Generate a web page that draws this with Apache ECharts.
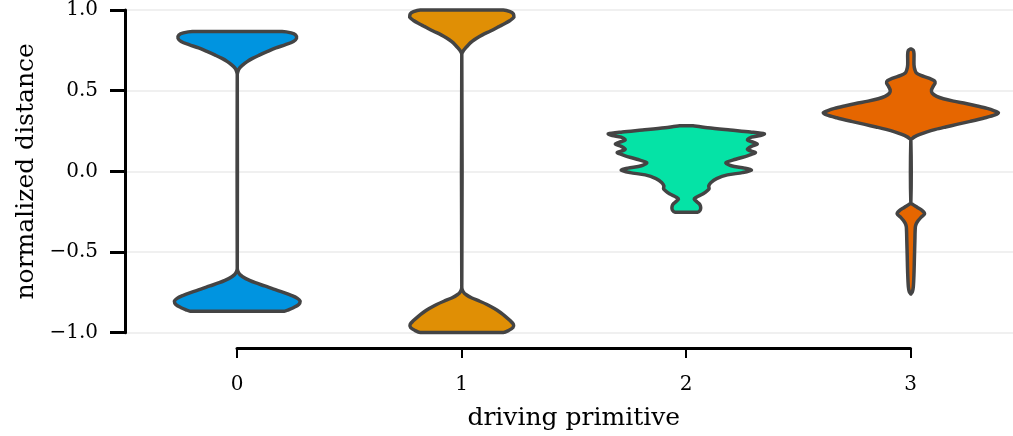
<!DOCTYPE html>
<html>
<head>
<meta charset="utf-8">
<script src="https://cdn.jsdelivr.net/npm/echarts@6/dist/echarts.min.js"></script>
<style>
  html, body { margin: 0; padding: 0; background: #ffffff; }
  #chart { width: 1013px; height: 436px; }
</style>
</head>
<body>
<div id="chart"></div>
<script>
// Categories on the x axis
const categories = ['0', '1', '2', '3'];
const yTicks = [-1.0, -0.5, 0.0, 0.5, 1.0];

// Violin outlines: [normalized distance, half width in category units], top to bottom
const violin0 = [
  [0.867, 0.200], [0.858, 0.240], [0.845, 0.260], [0.825, 0.264], [0.805, 0.250],
  [0.785, 0.215], [0.765, 0.172], [0.743, 0.135], [0.720, 0.098], [0.700, 0.068],
  [0.680, 0.044], [0.660, 0.025], [0.640, 0.010], [0.620, 0.003], [0.600, 0.000],
  [-0.600, 0.000], [-0.620, 0.003], [-0.640, 0.012], [-0.665, 0.038], [-0.690, 0.080],
  [-0.710, 0.122], [-0.730, 0.162], [-0.750, 0.205], [-0.770, 0.243], [-0.787, 0.268],
  [-0.805, 0.280], [-0.825, 0.274], [-0.845, 0.250], [-0.858, 0.228], [-0.867, 0.210]
];
const violin1 = [
  [1.000, 0.185], [0.990, 0.215], [0.975, 0.230], [0.955, 0.232], [0.935, 0.215],
  [0.915, 0.190], [0.897, 0.165], [0.870, 0.128], [0.846, 0.092], [0.825, 0.066],
  [0.805, 0.046], [0.785, 0.030], [0.763, 0.016], [0.745, 0.006], [0.725, 0.000],
  [-0.720, 0.000], [-0.745, 0.006], [-0.765, 0.020], [-0.785, 0.045], [-0.805, 0.080],
  [-0.825, 0.112], [-0.850, 0.145], [-0.875, 0.172], [-0.900, 0.195], [-0.925, 0.215],
  [-0.948, 0.230], [-0.968, 0.228], [-0.985, 0.210], [-0.998, 0.185]
];
const violin2 = [
  [0.282, 0.030], [0.270, 0.095], [0.256, 0.195], [0.244, 0.285], [0.232, 0.348],
  [0.222, 0.330], [0.212, 0.290], [0.194, 0.272], [0.180, 0.300], [0.168, 0.316],
  [0.155, 0.290], [0.137, 0.272], [0.125, 0.290], [0.116, 0.308], [0.105, 0.290],
  [0.096, 0.272], [0.075, 0.220], [0.054, 0.176], [0.035, 0.200], [0.020, 0.260],
  [0.007, 0.290], [-0.008, 0.250], [-0.022, 0.183], [-0.045, 0.135], [-0.069, 0.110],
  [-0.090, 0.100], [-0.110, 0.101], [-0.139, 0.075], [-0.160, 0.045], [-0.171, 0.035],
  [-0.190, 0.048], [-0.205, 0.060], [-0.223, 0.064], [-0.240, 0.062], [-0.254, 0.050]
];
const violin3 = [
  [0.758, 0.003], [0.750, 0.011], [0.730, 0.014], [0.660, 0.014], [0.630, 0.018],
  [0.610, 0.025], [0.595, 0.045], [0.578, 0.080], [0.562, 0.104], [0.547, 0.108],
  [0.528, 0.100], [0.505, 0.092], [0.485, 0.095], [0.465, 0.115], [0.450, 0.145],
  [0.435, 0.190], [0.420, 0.245], [0.405, 0.295], [0.390, 0.340], [0.375, 0.372],
  [0.363, 0.390], [0.350, 0.375], [0.332, 0.330], [0.310, 0.265], [0.291, 0.205],
  [0.275, 0.155], [0.260, 0.110], [0.245, 0.072], [0.229, 0.040], [0.215, 0.018],
  [0.205, 0.007], [0.195, 0.000],
  [-0.195, 0.000], [-0.205, 0.008], [-0.223, 0.028], [-0.245, 0.052], [-0.264, 0.061],
  [-0.285, 0.045], [-0.305, 0.033], [-0.325, 0.024], [-0.346, 0.020], [-0.428, 0.018],
  [-0.531, 0.016], [-0.634, 0.014], [-0.716, 0.011], [-0.745, 0.007], [-0.760, 0.000]
];
const violins = [violin0, violin1, violin2, violin3];

const fills = ['#0094E0', '#E08F05', '#05E3A6', '#E66600'];
const edge = '#444444';
const serif = "'DejaVu Serif', 'Liberation Serif', serif";

function renderViolin(params, api) {
  const idx = api.value(0);
  const prof = violins[idx];
  const right = prof.map(p => api.coord([idx + p[1], p[0]]));
  const left = prof.slice().reverse().map(p => api.coord([idx - p[1], p[0]]));
  const pts = right.concat(left);
  // keep the smoothed outline inside the outline's own bounding box
  const lo = [Infinity, Infinity], hi = [-Infinity, -Infinity];
  pts.forEach(q => {
    lo[0] = Math.min(lo[0], q[0]); lo[1] = Math.min(lo[1], q[1]);
    hi[0] = Math.max(hi[0], q[0]); hi[1] = Math.max(hi[1], q[1]);
  });
  return {
    type: 'polygon',
    shape: { points: pts, smooth: 0.3, smoothConstraint: [lo, hi] },
    style: { fill: fills[idx], stroke: edge, lineWidth: 3.5, lineJoin: 'round' }
  };
}

function fmtY(v) {
  return (v < 0 ? '\u2212' : '') + Math.abs(v).toFixed(1);
}

const chart = echarts.init(document.getElementById('chart'), null, { renderer: 'canvas' });
chart.setOption({
  animation: false,
  backgroundColor: '#ffffff',
  grid: [
    { left: 125, right: 0, top: 8.5, bottom: 103.3 },
    { left: 237, right: 102.5, top: 8.5, bottom: 103.3 }
  ],
  xAxis: [
    { gridIndex: 0, type: 'value', min: -0.5, max: 3.455, show: false },
    {
      gridIndex: 1, type: 'value', min: 0, max: categories.length - 1, interval: 1,
      position: 'bottom', offset: 15.5,
      axisLine: { show: true, onZero: false, lineStyle: { color: '#000', width: 3 } },
      axisTick: { show: true, length: 10, lineStyle: { color: '#000', width: 2 } },
      axisLabel: { margin: 27, color: '#000', fontFamily: serif, fontSize: 20,
        formatter: v => categories[v] },
      splitLine: { show: false },
      name: 'driving primitive', nameLocation: 'middle', nameGap: 58,
      nameTextStyle: { color: '#000', fontFamily: serif, fontSize: 25 }
    }
  ],
  yAxis: [
    {
      gridIndex: 0, type: 'value', min: yTicks[0], max: yTicks[yTicks.length - 1], interval: 0.5,
      axisLine: { show: true, onZero: false, lineStyle: { color: '#000', width: 3 } },
      axisTick: { show: true, length: 15, lineStyle: { color: '#000', width: 3 } },
      axisLabel: { margin: 27, color: '#000', fontFamily: serif, fontSize: 20, formatter: fmtY },
      splitLine: { show: true, lineStyle: { color: '#ebebeb', width: 1.5 } },
      name: 'normalized distance', nameLocation: 'middle', nameRotate: 90, nameGap: 86,
      nameTextStyle: { color: '#000', fontFamily: serif, fontSize: 25 }
    },
    { gridIndex: 1, type: 'value', min: -1, max: 1, show: false }
  ],
  series: [{
    type: 'custom',
    xAxisIndex: 0,
    yAxisIndex: 0,
    renderItem: renderViolin,
    encode: { x: 0, y: 1 },
    data: categories.map((c, i) => [i, 0]),
    z: 3
  }]
});
</script>
</body>
</html>
